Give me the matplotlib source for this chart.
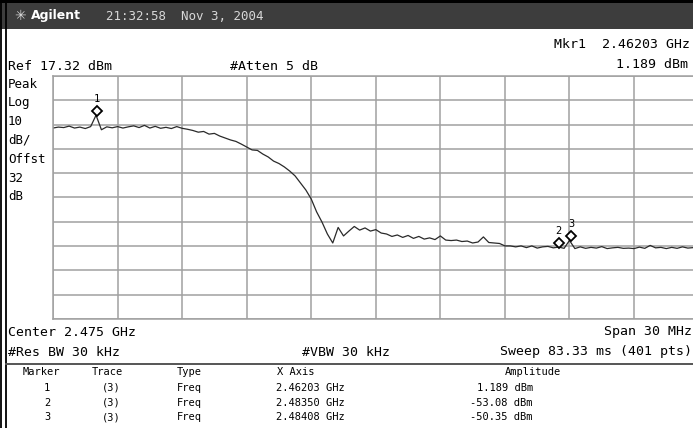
import numpy as np
import matplotlib
matplotlib.use("Agg")
import matplotlib.pyplot as plt
from matplotlib.patches import Rectangle
from matplotlib.lines import Line2D
from matplotlib.transforms import offset_copy

# analyzer settings
center_ghz = 2.475
span_mhz = 30.0
ref_dbm = 17.32
db_per_div = 10.0
n_pts = 121

# trace, dBm
trace_dbm = [
    -4.1, -3.7, -3.9, -3.3, -4.1, -3.7, -4.3, -3.5, 1.189, -4.8,
    -3.6, -4.0, -3.5, -4.1, -3.6, -3.2, -3.9, -3.0, -4.1, -3.4,
    -4.2, -3.8, -4.3, -3.5, -4.2, -4.6, -5.1, -5.8, -5.5, -6.6,
    -6.3, -7.4, -8.2, -9.0, -9.6, -10.7, -11.9, -13.1, -13.3, -14.8,
    -16.0, -17.7, -18.7, -20.1, -21.8, -23.8, -26.7, -29.6, -33.3, -38.6,
    -42.8, -47.7, -51.4, -45.0, -48.5, -46.5, -44.6, -46.1, -45.2, -46.5,
    -45.9, -47.3, -47.7, -48.7, -48.1, -49.1, -48.3, -49.5, -48.7, -49.8,
    -49.3, -50.0, -48.5, -50.2, -50.4, -50.2, -50.8, -50.6, -51.4, -51.0,
    -48.9, -51.2, -51.4, -51.6, -52.6, -52.6, -53.0, -52.6, -53.3, -52.6,
    -53.5, -53.0, -52.8, -53.4, -53.08, -53.6, -50.35, -53.7, -53.0, -53.6,
    -53.2, -53.5, -52.9, -53.7, -53.4, -53.2, -53.6, -53.5, -53.7, -53.1,
    -53.6, -52.4, -53.4, -53.2, -53.7, -53.2, -53.6, -53.0, -53.5, -53.3,
    -53.6,
]

marker_ids = ['1', '2', '3']
marker_ghz = [2.46203, 2.48350, 2.48408]
marker_dbm = [1.189, -53.08, -50.35]

W, H = 693, 428
fig = plt.figure(figsize=(W / 100, H / 100), dpi=100)
fig.patch.set_facecolor('white')

def fx(x):
    return x / W

def fy(y):
    return 1 - y / H

def put(x, y, s, size=9.5, ha='left', color='black', **kw):
    fig.text(fx(x), fy(y), s, ha=ha, va='center', fontsize=size, color=color,
             family='DejaVu Sans Mono', **kw)

# title bar
fig.add_artist(Rectangle((0, fy(29)), 1, 26 / H, transform=fig.transFigure,
                         facecolor='#3d3d3d', edgecolor='none'))
fig.add_artist(Rectangle((0, fy(3)), 1, 3 / H, transform=fig.transFigure,
                         facecolor='black', edgecolor='none'))
fig.text(fx(20), fy(16), '\u2733', ha='center', va='center', fontsize=10,
         color='#d8d8d8', family='DejaVu Sans')
fig.text(fx(31), fy(16), 'Agilent', ha='left', va='center', fontsize=9,
         color='white', fontweight='bold', family='DejaVu Sans')
put(106, 16, '21:32:58  Nov 3, 2004', size=9, color='#d8d8d8')

# left border
for xb in (1, 6):
    fig.add_artist(Line2D([fx(xb)] * 2, [0, fy(3)], transform=fig.transFigure,
                          color='black', lw=1.3))

# graticule
left, right, top, bottom = 53, 698.6, 76, 319
ax = fig.add_axes([fx(left), fy(bottom), (right - left) / W, (bottom - top) / H])
f0 = center_ghz - span_mhz / 2000
f1 = center_ghz + span_mhz / 2000
freqs = np.linspace(f0, f1, n_pts)
ax.set_xlim(f0, f1)
ax.set_ylim(ref_dbm - 10 * db_per_div, ref_dbm)
ax.set_xticks(np.linspace(f0, f1, 11))
ax.set_yticks(ref_dbm - db_per_div * np.arange(11))
ax.tick_params(length=0, labelbottom=False, labelleft=False)
ax.grid(True, color='#a0a0a0', lw=1.1)
for sp in ax.spines.values():
    sp.set_color('#a0a0a0')
    sp.set_linewidth(1.1)

ax.plot(freqs, trace_dbm, color='#2a2a2a', lw=0.9)

# markers sit just above the trace point
up = offset_copy(ax.transData, fig=fig, x=0, y=4.5, units='dots')
ax.plot(marker_ghz, marker_dbm, ls='none', marker='D', ms=4.8, mfc='white',
        mec='black', mew=1.3, transform=up, zorder=5)
for mid, f, a in zip(marker_ids, marker_ghz, marker_dbm):
    ax.annotate(mid, (f, a), xytext=(0, 16), textcoords='offset pixels',
                ha='center', va='center', fontsize=7.5, family='DejaVu Sans Mono')

# header text
put(8, 67, 'Ref 17.32 dBm')
put(230, 67, '#Atten 5 dB')
put(690, 45, 'Mkr1  2.46203 GHz', ha='right')
put(688, 65, '1.189 dBm', ha='right')

side = ['Peak', 'Log', '10', 'dB/', 'Offst', '32', 'dB']
for i, s in enumerate(side):
    put(8, 84 + i * 18.8, s, size=9)

# footer text
put(8, 332, 'Center 2.475 GHz')
put(692, 332, 'Span 30 MHz', ha='right')
put(8, 352, '#Res BW 30 kHz')
put(302, 352, '#VBW 30 kHz')
put(692, 352, 'Sweep 83.33 ms (401 pts)', ha='right')
fig.add_artist(Line2D([fx(6), 1], [fy(364)] * 2, transform=fig.transFigure,
                      color='#555555', lw=1.4))

# marker table
ts = 7.5
put(23, 372, 'Marker', size=ts)
put(92, 372, 'Trace', size=ts)
put(177, 372, 'Type', size=ts)
put(277, 372, 'X Axis', size=ts)
put(505, 372, 'Amplitude', size=ts)
for i, (mid, f, a) in enumerate(zip(marker_ids, marker_ghz, marker_dbm)):
    y = 388 + i * 14.7
    put(47, y, mid, size=ts, ha='center')
    put(102, y, '(3)', size=ts)
    put(177, y, 'Freq', size=ts)
    put(345, y, f'{f:.5f} GHz', size=ts, ha='right')
    put(533, y, f'{a:.4g} dBm', size=ts, ha='right')

fig.savefig('out.png', dpi=100)
